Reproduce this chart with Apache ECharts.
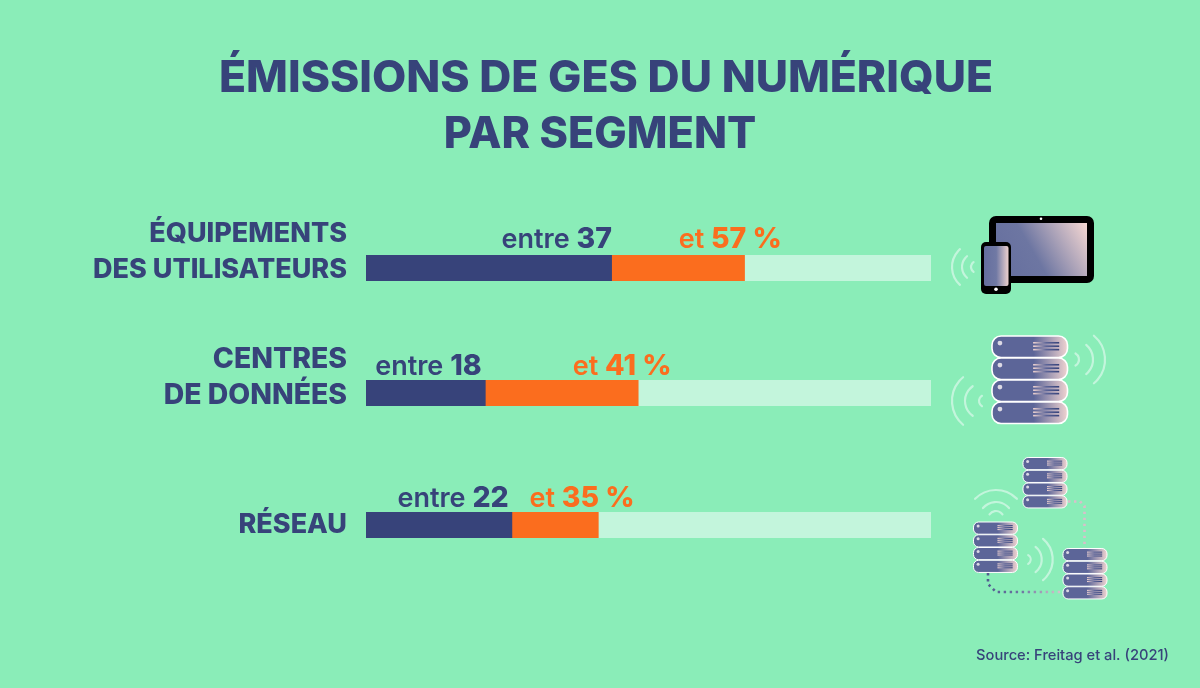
<!DOCTYPE html>
<html><head><meta charset="utf-8">
<style>html,body{margin:0;padding:0;background:#8AEDB8}#c{width:1200px;height:688px}</style>
<script src="https://cdn.jsdelivr.net/npm/echarts@6/dist/echarts.min.js"></script>
</head><body><div id="c"></div>
<script>
const categories = ['ÉQUIPEMENTS\nDES UTILISATEURS', 'CENTRES\nDE DONNÉES', 'RÉSEAU'];
const lowValues = [37, 18, 22];
const highValues = [57, 41, 35];
const axisMax = 85;
const titleLines = ['ÉMISSIONS DE GES DU NUMÉRIQUE', 'PAR SEGMENT'];
const sourceText = 'Source: Freitag et al. (2021)';

const NAVY = '#37437A', ORANGE = '#FB6D1E', TRACK = '#C3F5DC', BG = '#8AEDB8', PINK = '#F3D6D2', MID = '#5C6598';
const FONT = 'Inter';
const rowTops = [255, 380, 512];
const rowFont = [27, 28.4, 27];
const lowShift = [0, -4, -3.5], highShift = [37, 33, 36];
const labelLift = [-1, 1, 1];
const GL = 366, GR = 269, GH = 26;

const grids = [], xAxes = [], yAxes = [], series = [];
categories.forEach((c, i) => {
  grids.push({left: GL, right: GR, top: rowTops[i], height: GH});
  xAxes.push({gridIndex: i, type: 'value', min: 0, max: axisMax, show: false});
  const rowStyle = {color: NAVY, fontFamily: FONT, fontWeight: 800, fontSize: rowFont[i], lineHeight: 36, align: 'right'};
  yAxes.push({gridIndex: i, type: 'category', data: [c], axisLine: {show: false}, axisTick: {show: false},
    axisLabel: Object.assign({margin: 19}, rowStyle, {
      formatter: v => v.indexOf('\n') >= 0 ? v.split('\n').map(s => `{t|${s}}`).join('\n') + '\n{s| }' : `{t|${v}}\n{u| }`,
      rich: {t: rowStyle, s: {fontSize: 10, lineHeight: 32}, u: {fontSize: 1, lineHeight: 0}}})});
  const lbl = (txt, val, extra, dx, rs) => ({show: true, position: ['100%', 0], align: 'right', verticalAlign: 'bottom', offset: [dx, labelLift[i]],
    formatter: `{a|${txt} }{b|${val}${extra}}`, rich: rs});
  series.push({type: 'bar', xAxisIndex: i, yAxisIndex: i, data: [highValues[i]], barWidth: '100%', barGap: '-100%',
    showBackground: true, backgroundStyle: {color: TRACK}, itemStyle: {color: ORANGE},
    label: lbl('et', highValues[i], ' %', highShift[i], {
      a: {color: ORANGE, fontFamily: FONT, fontWeight: 600, fontSize: 27},
      b: {color: ORANGE, fontFamily: FONT, fontWeight: 800, fontSize: 28.5}})});
  series.push({type: 'bar', xAxisIndex: i, yAxisIndex: i, data: [lowValues[i]], barWidth: '100%', barGap: '-100%',
    itemStyle: {color: NAVY},
    label: lbl('entre', lowValues[i], '', lowShift[i], {
      a: {color: NAVY, fontFamily: FONT, fontWeight: 600, fontSize: 27},
      b: {color: NAVY, fontFamily: FONT, fontWeight: 800, fontSize: 28.5}})});
});

/* decorative icons */
const g = [];
const hGrad = (stops) => ({type: 'linear', x: 0, y: 0, x2: 1, y2: 0, colorStops: stops.map(s => ({offset: s[0], color: s[1]}))});
const wave = (cx, cy, r, dirDeg, halfDeg) => {
  const d = Math.PI / 180;
  g.push({type: 'arc', silent: true, shape: {cx, cy, r, startAngle: (dirDeg - halfDeg) * d, endAngle: (dirDeg + halfDeg) * d, clockwise: true},
    style: {stroke: TRACK, lineWidth: 2.2, fill: null, lineCap: 'round'}, z: 5});
};
const rrect = (x, y, w, h, r, fill, extra) => g.push({type: 'rect', silent: true, shape: {x, y, width: w, height: h, r},
  style: Object.assign({fill}, extra || {}), z: 5});
const dot = (cx, cy, r, fill) => g.push({type: 'circle', silent: true, shape: {cx, cy, r}, style: {fill}, z: 6});

function server(x, y, w, h, big) {
  rrect(x, y, w, h, h * 0.42, hGrad([[0, MID], [0.55, MID], [1, PINK]]), {stroke: '#fff', lineWidth: big ? 1.6 : 1});
  dot(x + w * 0.105, y + h * 0.33, big ? 2.4 : 1.5, '#DCD9E4');
  const lx = x + w * 0.545, lw = w * 0.345;
  [0.31, 0.47, 0.63].forEach(f => {
    const ly = y + h * f;
    g.push({type: 'rect', silent: true, shape: {x: lx, y: ly - 0.7, width: lw, height: big ? 1.6 : 1.1},
      style: {fill: hGrad([[0, PINK], [0.5, MID], [1, NAVY]])}, z: 6});
  });
}
const stack = (x, y, w, h, pitch, big) => { for (let i = 0; i < 4; i++) server(x, y + i * pitch, w, h, big); };

rrect(989, 216, 105, 67, 7, '#000');
rrect(996, 223, 91, 53, 0, {type: 'linear', x: 0, y: 1, x2: 1, y2: 0, colorStops: [{offset: 0, color: '#656E9E'}, {offset: 0.42, color: '#6D76A2'}, {offset: 1, color: '#F6D8D3'}]});
dot(1041, 218.8, 1.3, '#fff');
rrect(981, 242, 30, 52, 5, '#000');
rrect(984, 246, 24.5, 40, 2, hGrad([[0, '#656E9E'], [0.5, '#7079A4'], [1, '#EDD0CD']]));
dot(996, 289.3, 1.8, '#fff');
wave(976, 267, 24, 180, 48); wave(976, 267, 14, 180, 50); wave(977, 267, 6, 180, 55);

stack(992, 336, 75.5, 21.5, 22, true);
wave(1074, 359.5, 31, 0, 50); wave(1074, 359.5, 19, 0, 50); wave(1072, 359.5, 7, 0, 60);
wave(983, 401, 31, 180, 50); wave(983, 401, 18, 180, 55); wave(985, 401, 6, 180, 60);

stack(1023, 457.5, 44, 12.2, 12.75, false);
stack(973.5, 522, 44, 12.2, 12.75, false);
stack(1063, 548.5, 44, 12.2, 12.75, false);
wave(996, 519, 29, -90, 46); wave(996, 519, 17, -90, 50); wave(996, 519, 8, -90, 54);
wave(1025.7, 559.5, 27, 0, 50); wave(1025.7, 559.5, 16, 0, 52); wave(1025.7, 559.5, 5, 0, 60);
g.push({type: 'polyline', silent: true, shape: {points: [[1068, 501.5], [1080, 501.5], [1084.5, 506], [1084.5, 548]]},
  style: {stroke: '#D9BFCB', lineWidth: 2.6, lineDash: [2.4, 3.6], fill: null}, z: 4});
g.push({type: 'polyline', silent: true, shape: {points: [[988, 573], [988, 584], [996, 592], [1063, 592]]},
  style: {stroke: hGrad([[0, '#4F5A8E'], [0.45, '#6D76A2'], [1, '#E4CDD2']]), lineWidth: 2.6, lineDash: [2.4, 3.6], fill: null}, z: 4});

const titleStyle = {color: NAVY, fontFamily: FONT, fontWeight: 800, fontSize: 44.4};
const chart = echarts.init(document.getElementById('c'), null, {renderer: 'canvas', width: 1200, height: 688});
chart.setOption({
  animation: false,
  backgroundColor: BG,
  title: [
    {text: titleLines[0], left: 606, top: 57, padding: 0, textAlign: 'center', textStyle: titleStyle},
    {text: titleLines[1], left: 600, top: 114, padding: 0, textAlign: 'center', textStyle: Object.assign({}, titleStyle, {fontSize: 43.2})},
    {text: sourceText, right: 31, top: 648, padding: 0, textStyle: {color: NAVY, fontFamily: FONT, fontWeight: 500, fontSize: 14.7}}
  ],
  grid: grids, xAxis: xAxes, yAxis: yAxes, series,
  graphic: {elements: g}
});
</script></body></html>
